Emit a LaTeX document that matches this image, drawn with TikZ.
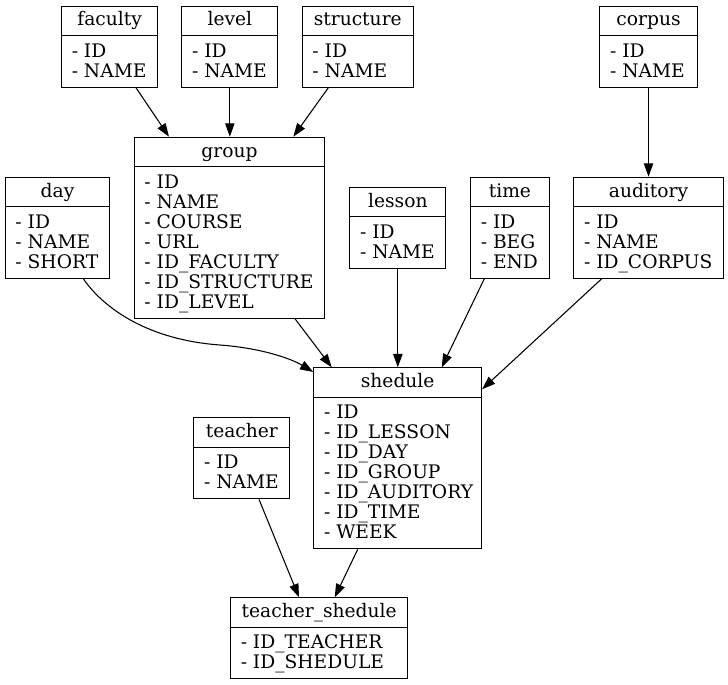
\documentclass[tikz,border=0pt]{standalone}
\usepackage{fontspec}
\setmainfont{DejaVu Serif}
\usetikzlibrary{arrows.meta,calc}
\tikzset{
  recbox/.style={draw, line width=0.8pt, inner sep=0pt, rectangle},
  recline/.style={line width=0.8pt},
  rectitle/.style={anchor=base, inner sep=0pt},
  recfield/.style={anchor=base west, inner sep=0pt},
  edge/.style={line width=0.8pt, -{Triangle[length=10pt,width=7pt]}}
}
\newcommand\dbrec[7]{%
  \node[recbox, minimum width=#4*0.75pt, minimum height={(41+#7*20)*0.75pt}, anchor=north west] (#1) at (#2,#3) {};
  \draw[recline] ($(#1.north west)+(0,30)$) -- ($(#1.north east)+(0,30)$);
  \node[rectitle] (#1-title) at ($(#1.north)+(0,20.3)$) {#5};
  \foreach \f [count=\i] in {#6} {
    \node[recfield] (#1-f\i) at ($(#1.north west)+(10.5,31.6+\i*20)$) {\f};
  }%
}
\begin{document}
\begin{tikzpicture}[x=0.75pt,y=-0.75pt,font=\fontsize{14pt}{15pt}\selectfont]
\useasboundingbox (0,0) rectangle (728,685);
\dbrec{faculty}{61}{5.7}{96.3}{faculty}{- ID,- NAME}{2}
\dbrec{level}{181.3}{5.7}{96}{level}{- ID,- NAME}{2}
\dbrec{structure}{301.7}{5.7}{111}{structure}{- ID,- NAME}{2}
\dbrec{corpus}{599.3}{5.7}{97.4}{corpus}{- ID,- NAME}{2}
\dbrec{group}{133.7}{136.7}{190.6}{group}{- ID,- NAME,- COURSE,- URL,- ID\_FACULTY,- ID\_STRUCTURE,- ID\_LEVEL}{7}
\dbrec{day}{4.7}{176.7}{104.6}{day}{- ID,- NAME,- SHORT}{3}
\dbrec{lesson}{349.3}{186.7}{96}{lesson}{- ID,- NAME}{2}
\dbrec{time}{470}{176.7}{78.7}{time}{- ID,- BEG,- END}{3}
\dbrec{auditory}{573.3}{176.7}{149.4}{auditory}{- ID,- NAME,- ID\_CORPUS}{3}
\dbrec{shedule}{313.3}{367.3}{167.7}{shedule}{- ID,- ID\_LESSON,- ID\_DAY,- ID\_GROUP,- ID\_AUDITORY,- ID\_TIME,- WEEK}{7}
\dbrec{teacher}{193.3}{417.3}{96}{teacher}{- ID,- NAME}{2}
\dbrec{tsh}{230}{597.3}{177.3}{teacher\_shedule}{- ID\_TEACHER,- ID\_SHEDULE}{2}
% edges
\draw[edge] ($(faculty.south west)+(75,0)$) -- ($(group.north west)+(35.3,0)$);
\draw[edge] (level.south) -- (level.south |- group.north);
\draw[edge] ($(structure.south west)+(26.6,0)$) -- ($(group.north west)+(159.6,0)$);
\draw[edge] (corpus.south) -- (corpus.south |- auditory.north);
\draw[edge] ($(group.south west)+(161.3,0)$) -- ($(shedule.north west)+(18.4,0)$);
\draw[edge] (lesson.south) -- (lesson.south |- shedule.north);
\draw[edge] ($(time.south west)+(14.3,0)$) -- ($(shedule.north west)+(128.4,0)$);
\draw[edge] ($(auditory.south west)+(28.4,0)$) -- ($(shedule.north east)+(0,22)$);
\coordinate (daymid) at (220,345);
\draw[edge] ($(day.south west)+(78.6,0)$) .. controls (105,310) and (150,340) .. (daymid) .. controls (260,348) and (290,358) .. ($(shedule.north west)+(0,4.7)$);
\draw[edge] ($(teacher.south west)+(65.7,0)$) -- ($(tsh.north west)+(69,0)$);
\draw[edge] ($(shedule.south west)+(44.4,0)$) -- ($(tsh.north west)+(104.7,0)$);
\end{tikzpicture}
\end{document}
